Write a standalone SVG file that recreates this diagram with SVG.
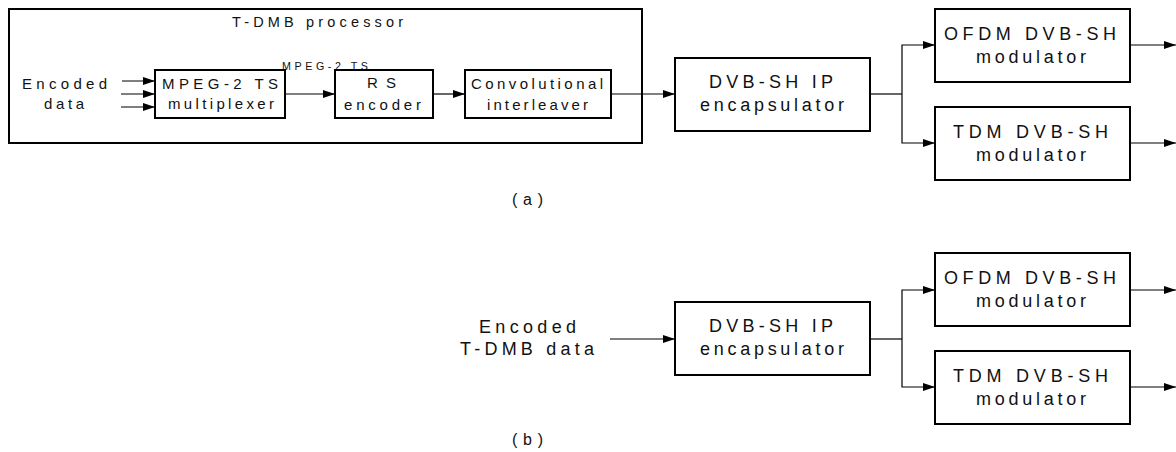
<svg xmlns="http://www.w3.org/2000/svg" width="1176" height="452" viewBox="0 0 1176 452">
<style>
  .box { fill: #fff; stroke: #000; stroke-width: 2; }
  .outer { fill: none; stroke: #000; stroke-width: 2; }
  .ln { fill: none; stroke: #000; stroke-width: 1.2; }
  text { font-family: "Liberation Sans", Arial, sans-serif; fill: #111; text-anchor: middle; }
  .s { font-size: 15px; }
  .b { font-size: 18px; }
  .t { font-size: 14.5px; }
  .m { font-size: 10.7px; }
  .c { font-size: 16px; }
</style>
<defs>
  <marker id="arr" markerUnits="userSpaceOnUse" markerWidth="13" markerHeight="8" refX="12" refY="4" orient="auto">
    <path d="M0,0 L12,4 L0,8 Z" fill="#000"/>
  </marker>
</defs>

<g id="tdmb-processor">
  <rect class="outer" x="9" y="9" width="633" height="134"/>
  <text class="t" x="317.5" y="27" textLength="171" lengthAdjust="spacing">T-DMB processor</text>
  <text class="m" x="325" y="70" textLength="86" lengthAdjust="spacing">MPEG-2 TS</text>
</g>

<g id="input-a">
  <text class="s" x="64.5" y="89" textLength="85" lengthAdjust="spacing">Encoded</text>
  <text class="s" x="64" y="109" textLength="40" lengthAdjust="spacing">data</text>
</g>

<g id="mux">
  <rect class="box" x="155" y="70" width="130" height="48"/>
  <text class="s" x="220" y="89" textLength="116" lengthAdjust="spacing">MPEG-2 TS</text>
  <text class="s" x="221" y="109" textLength="106" lengthAdjust="spacing">multiplexer</text>
</g>

<g id="rs">
  <rect class="box" x="335" y="70" width="98" height="48"/>
  <text class="s" x="381.5" y="88" textLength="29" lengthAdjust="spacing">RS</text>
  <text class="s" x="382.5" y="110" textLength="77" lengthAdjust="spacing">encoder</text>
</g>

<g id="conv">
  <rect class="box" x="465" y="70" width="146" height="48"/>
  <text class="s" x="537" y="89" textLength="132" lengthAdjust="spacing">Convolutional</text>
  <text class="s" x="537.5" y="110" textLength="101" lengthAdjust="spacing">interleaver</text>
</g>

<g id="encap-a">
  <rect class="box" x="675" y="58" width="195" height="73"/>
  <text class="b" x="771" y="88" textLength="124" lengthAdjust="spacing">DVB-SH IP</text>
  <text class="b" x="772" y="111" textLength="144" lengthAdjust="spacing">encapsulator</text>
</g>

<g id="ofdm-a">
  <rect class="box" x="935" y="9" width="195" height="73"/>
  <text class="b" x="1030" y="40" textLength="172" lengthAdjust="spacing">OFDM DVB-SH</text>
  <text class="b" x="1031" y="63" textLength="110" lengthAdjust="spacing">modulator</text>
</g>

<g id="tdm-a">
  <rect class="box" x="935" y="107" width="195" height="73"/>
  <text class="b" x="1030.5" y="138" textLength="155" lengthAdjust="spacing">TDM DVB-SH</text>
  <text class="b" x="1031" y="161" textLength="110" lengthAdjust="spacing">modulator</text>
</g>

<g id="label-a">
  <text class="c" x="527.5" y="205" textLength="31" lengthAdjust="spacing">(a)</text>
</g>

<g id="input-b">
  <text class="b" x="527.5" y="333" textLength="97" lengthAdjust="spacing">Encoded</text>
  <text class="b" x="527" y="355" textLength="134" lengthAdjust="spacing">T-DMB data</text>
</g>

<g id="encap-b">
  <rect class="box" x="675" y="302" width="195" height="73"/>
  <text class="b" x="771" y="332" textLength="124" lengthAdjust="spacing">DVB-SH IP</text>
  <text class="b" x="772" y="355" textLength="144" lengthAdjust="spacing">encapsulator</text>
</g>

<g id="ofdm-b">
  <rect class="box" x="935" y="253" width="195" height="73"/>
  <text class="b" x="1030" y="284" textLength="172" lengthAdjust="spacing">OFDM DVB-SH</text>
  <text class="b" x="1031" y="307" textLength="110" lengthAdjust="spacing">modulator</text>
</g>

<g id="tdm-b">
  <rect class="box" x="935" y="351" width="195" height="73"/>
  <text class="b" x="1030.5" y="382" textLength="155" lengthAdjust="spacing">TDM DVB-SH</text>
  <text class="b" x="1031" y="405" textLength="110" lengthAdjust="spacing">modulator</text>
</g>

<g id="label-b">
  <text class="c" x="527.5" y="445" textLength="31" lengthAdjust="spacing">(b)</text>
</g>

<g id="connectors">
  <line class="ln" x1="122" y1="81" x2="155" y2="81" marker-end="url(#arr)"/>
  <line class="ln" x1="121" y1="94" x2="155" y2="94" marker-end="url(#arr)"/>
  <line class="ln" x1="121" y1="107" x2="155" y2="107" marker-end="url(#arr)"/>
  <line class="ln" x1="285" y1="94" x2="335" y2="94" marker-end="url(#arr)"/>
  <line class="ln" x1="433" y1="94" x2="465" y2="94" marker-end="url(#arr)"/>
  <line class="ln" x1="611" y1="94" x2="675" y2="94" marker-end="url(#arr)"/>
  <line class="ln" x1="870" y1="94" x2="902" y2="94"/>
  <path class="ln" d="M902,94 V45 H935" marker-end="url(#arr)"/>
  <path class="ln" d="M902,94 V143 H935" marker-end="url(#arr)"/>
  <line class="ln" x1="1130" y1="45" x2="1176" y2="45" marker-end="url(#arr)"/>
  <line class="ln" x1="1130" y1="143" x2="1176" y2="143" marker-end="url(#arr)"/>

  <line class="ln" x1="610" y1="339" x2="675" y2="339" marker-end="url(#arr)"/>
  <line class="ln" x1="870" y1="339" x2="902" y2="339"/>
  <path class="ln" d="M902,339 V290 H935" marker-end="url(#arr)"/>
  <path class="ln" d="M902,339 V387 H935" marker-end="url(#arr)"/>
  <line class="ln" x1="1130" y1="290" x2="1176" y2="290" marker-end="url(#arr)"/>
  <line class="ln" x1="1130" y1="387" x2="1176" y2="387" marker-end="url(#arr)"/>
</g>
</svg>
